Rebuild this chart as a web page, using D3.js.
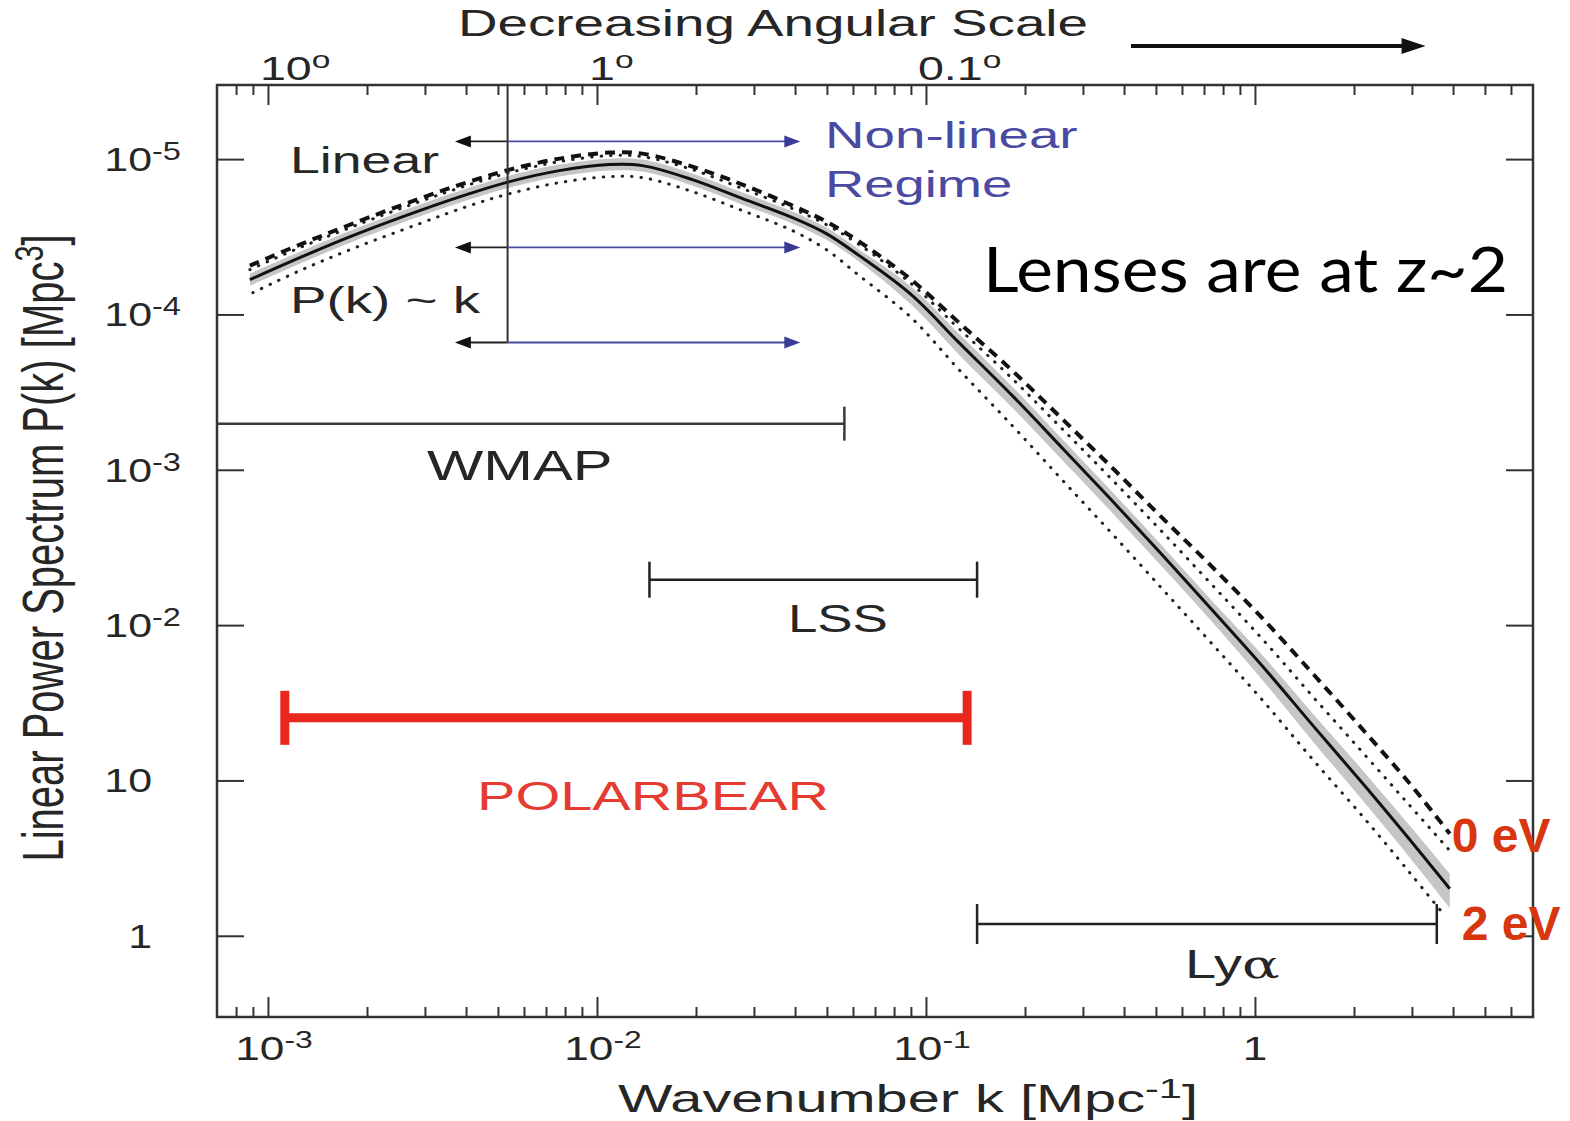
<!DOCTYPE html>
<html>
<head>
<meta charset="utf-8">
<script src="https://cdn.jsdelivr.net/npm/d3@7"></script>
<style>
  html, body { margin: 0; padding: 0; background: #fff; }
  svg { display: block; }
</style>
</head>
<body>
<svg id="chart" width="1570" height="1121"></svg>
<script>
// ---------------------------------------------------------------
// Linear matter power spectrum P(k) with the scale ranges probed
// by different experiments.
// ---------------------------------------------------------------

// central model (solid line) — k in Mpc^-1, P in Mpc^3
const kCentral = [0.000881, 0.00125, 0.00181, 0.00289, 0.00410, 0.00543, 0.00769, 0.01091,
  0.01374, 0.0195, 0.0277, 0.0393, 0.0498, 0.0627, 0.0902, 0.126, 0.183, 0.259, 0.368,
  0.522, 0.740, 1.064, 1.510, 2.143, 2.94, 3.91];
const pCentral = [16750, 23220, 32170, 46600, 59950, 71650, 84330, 92180,
  90820, 73790, 55670, 42010, 33140, 23910, 13410, 6583, 3000, 1388, 632.4,
  284.0, 125.6, 53.2, 22.2, 9.38, 4.21, 2.01];

// shaded uncertainty band around the central model
const pBandHigh = [18310, 25370, 35160, 50930, 65540, 78310, 92180, 100700,
  99260, 80650, 60850, 45920, 36220, 26140, 15100, 7521, 3429, 1586, 722.8,
  324.6, 143.6, 62.6, 26.5, 11.38, 5.19, 2.51];
const pBandLow = [15320, 21240, 29430, 42640, 54860, 65540, 77160, 84330,
  83090, 67520, 50930, 38430, 30310, 21880, 11570, 5511, 2512, 1161, 529.3,
  237.7, 105.2, 43.2, 17.5, 7.29, 3.23, 1.51];

// massless-neutrino model (dashed, "0 eV")
const pMassless = [20620, 28140, 38430, 55670, 71650, 85590, 100700, 110100,
  108500, 89480, 68520, 50190, 39590, 29430, 16750, 8855, 4346, 2133, 1032,
  491.6, 237.7, 108.3, 47.9, 20.9, 9.67, 4.54];

// upper dotted envelope
const pUpperDotted = [19440, 26920, 36760, 53250, 68520, 81880, 96360, 105300,
  103800, 85590, 64580, 48000, 37860, 28140, 15780, 8101, 3860, 1840, 863.3,
  399.4, 182.0, 79.4, 34.1, 14.85, 6.98, 3.53];

// lower dotted envelope ("2 eV")
const kLowerDotted = [0.000900, 0.00125, 0.00181, 0.00289, 0.00410, 0.00543, 0.00769, 0.01091,
  0.01374, 0.0195, 0.0277, 0.0393, 0.0498, 0.0627, 0.0902, 0.126, 0.183, 0.259, 0.368,
  0.522, 0.740, 1.064, 1.510, 2.143, 2.94, 3.67];
const pLowerDotted = [13820, 19140, 26530, 38430, 50190, 59950, 70580, 77160,
  76030, 61750, 46600, 34640, 26140, 17770, 9537, 4411, 1923, 863.3, 387.7,
  171.6, 75.9, 32.1, 13.39, 5.75, 2.58, 1.45];

// experiment ranges in k, drawn at a fixed P level
const rangeNames = ["WMAP", "LSS", "POLARBEAR", "Ly"];
const rangeKMin = [0.0007, 0.01444, 0.001125, 0.143];
const rangeKMax = [0.0565, 0.143, 0.1334, 3.57];
const rangeLevel = [1982, 196, 25.3, 1.19];

// linear / non-linear regime arrows
const regimeSplitK = 0.00535;
const regimeArrowK = [0.0037, 0.0415];
const regimeArrowP = [1.3e5, 2.7e4, 6.6e3];

// axis ticks and labels
const xMajorTicks = [1e-3, 1e-2, 1e-1, 1];
const xTickBase = ["10", "10", "10", "1"];
const xTickSup = ["-3", "-2", "-1", ""];
const yMajorTicks = [1e5, 1e4, 1e3, 1e2, 10, 1];
const yTickBase = ["10", "10", "10", "10", "10", "1"];
const yTickSup = ["-5", "-4", "-3", "-2", "", ""];
const angleTickK = [1e-3, 1e-2, 1e-1];
const angleLabels = ["10", "1", "0.1"];
const angleArrowK = [0.42, 3.3];

// ---------------------------------------------------------------
const svg = d3.select("#chart");
const frame = { left: 217, right: 1533, top: 85, bottom: 1017 };

const x = d3.scaleLog().domain([7e-4, 7]).range([frame.left, frame.right]);
const y = d3.scaleLog().domain([0.3, 3e5]).range([frame.bottom, frame.top]);

const SANS = "'Liberation Sans', Arial, Helvetica, sans-serif";
const INK = "#262626";
const BLUE = "#4a4aa2";
const RED = "#e8261c";

// text with horizontal stretching and optional superscript parts
function label(parent, tx, ty, parts, o) {
  const sx = o.sx || 1;
  const t = parent.append("text")
    .attr("transform", `translate(${tx},${ty}) scale(${sx},1)` + (o.rotate ? ` rotate(${o.rotate})` : ""))
    .attr("font-family", o.family || SANS)
    .attr("font-size", o.size)
    .attr("font-weight", o.weight || "normal")
    .attr("fill", o.fill || INK)
    .attr("text-anchor", o.anchor || "start");
  if (o.textLength) t.attr("textLength", o.textLength).attr("lengthAdjust", "spacingAndGlyphs");
  parts.forEach(p => {
    const s = t.append("tspan").text(p.t);
    if (p.sup) s.attr("font-size", o.size * 0.72).attr("dy", -o.size * 0.36);
    if (p.down) s.attr("dy", o.size * 0.36);
    if (p.family) s.attr("font-family", p.family);
  });
  return t;
}

// ---------------- spectrum curves ----------------
const plot = svg.append("g");
const smooth = d3.curveCatmullRom.alpha(0.5);

const band = d3.area()
  .x((d, i) => x(kCentral[i]))
  .y0((d, i) => y(pBandLow[i]))
  .y1((d, i) => y(pBandHigh[i]))
  .curve(smooth);
plot.append("path").datum(kCentral).attr("d", band)
  .attr("fill", "#c6c6c6").attr("stroke", "none");

const lineOf = (ks, ps) => d3.line()
  .x((d, i) => x(ks[i]))
  .y((d, i) => y(ps[i]))
  .curve(smooth)(ks);

plot.append("path").attr("d", lineOf(kLowerDotted, pLowerDotted))
  .attr("fill", "none").attr("stroke", "#222").attr("stroke-width", 3)
  .attr("stroke-linecap", "round").attr("stroke-dasharray", "0.5,9");

plot.append("path").attr("d", lineOf(kCentral, pUpperDotted))
  .attr("fill", "none").attr("stroke", "#222").attr("stroke-width", 3)
  .attr("stroke-linecap", "round").attr("stroke-dasharray", "0.5,9");

plot.append("path").attr("d", lineOf(kCentral, pMassless))
  .attr("fill", "none").attr("stroke", "#111").attr("stroke-width", 4)
  .attr("stroke-dasharray", "10,7");

plot.append("path").attr("d", lineOf(kCentral, pCentral))
  .attr("fill", "none").attr("stroke", "#111").attr("stroke-width", 3);

// ---------------- frame and ticks ----------------
svg.append("rect")
  .attr("x", frame.left).attr("y", frame.top)
  .attr("width", frame.right - frame.left).attr("height", frame.bottom - frame.top)
  .attr("fill", "none").attr("stroke", "#333").attr("stroke-width", 2.5);

const xMinorTicks = [];
d3.range(-4, 1).forEach(e => d3.range(2, 10).forEach(m => {
  const v = m * Math.pow(10, e);
  if (v > x.domain()[0] && v < x.domain()[1]) xMinorTicks.push(v);
}));

function styleTicks(g) {
  g.select(".domain").remove();
  g.selectAll("line").attr("stroke", "#333").attr("stroke-width", 2);
  g.selectAll("text").remove();
}

svg.append("g").attr("transform", `translate(0,${frame.bottom})`)
  .call(d3.axisBottom(x).tickValues(xMinorTicks).tickSize(-10)).call(styleTicks);
svg.append("g").attr("transform", `translate(0,${frame.bottom})`)
  .call(d3.axisBottom(x).tickValues(xMajorTicks).tickSize(-20)).call(styleTicks);
svg.append("g").attr("transform", `translate(0,${frame.top})`)
  .call(d3.axisTop(x).tickValues(xMinorTicks).tickSize(-10)).call(styleTicks);
svg.append("g").attr("transform", `translate(0,${frame.top})`)
  .call(d3.axisTop(x).tickValues(xMajorTicks).tickSize(-20)).call(styleTicks);
svg.append("g").attr("transform", `translate(${frame.left},0)`)
  .call(d3.axisLeft(y).tickValues(yMajorTicks).tickSize(-27)).call(styleTicks);
svg.append("g").attr("transform", `translate(${frame.right},0)`)
  .call(d3.axisRight(y).tickValues(yMajorTicks).tickSize(-27)).call(styleTicks);

// tick labels
xMajorTicks.forEach((v, i) => {
  const parts = [{ t: xTickBase[i] }];
  if (xTickSup[i]) parts.push({ t: xTickSup[i], sup: true });
  label(svg, x(v) + (xTickSup[i] ? 6 : 0), 1060, parts, { size: 34, sx: 1.3, anchor: "middle" });
});

yMajorTicks.forEach((v, i) => {
  label(svg, 152, y(v) + 12, [{ t: yTickBase[i] }], { size: 33, sx: 1.3, anchor: "end" });
  if (yTickSup[i]) label(svg, 152, y(v) + 1, [{ t: yTickSup[i] }], { size: 25, sx: 1.3 });
});

angleTickK.forEach((v, i) => {
  label(svg, x(v) - 8, 80, [{ t: angleLabels[i] }, { t: "o", sup: true }], { size: 34, sx: 1.37 });
});

// axis titles
label(svg, 458, 36, [{ t: "Decreasing Angular Scale" }], { size: 37, sx: 1.48 });
label(svg, 908, 1112, [{ t: "Wavenumber k [Mpc" }, { t: "-1", sup: true }, { t: "]", down: true }],
  { size: 39, sx: 1.48, anchor: "middle" });
label(svg, 63, 548, [{ t: "Linear Power Spectrum P(k) [Mpc" }, { t: "3", sup: true }, { t: "]", down: true }],
  { size: 40, sx: 1.42, anchor: "middle", rotate: -90 });

// decreasing angular scale arrow
const arrowY = 46;
svg.append("line")
  .attr("x1", x(angleArrowK[0])).attr("x2", x(angleArrowK[1]) - 18)
  .attr("y1", arrowY).attr("y2", arrowY)
  .attr("stroke", "#111").attr("stroke-width", 4);
svg.append("path")
  .attr("d", `M${x(angleArrowK[1])},${arrowY} l-24,-8 l0,16 Z`)
  .attr("fill", "#111");

// ---------------- regime arrows ----------------
const reg = svg.append("g");
reg.append("line")
  .attr("x1", x(regimeSplitK)).attr("x2", x(regimeSplitK))
  .attr("y1", frame.top).attr("y2", y(d3.min(regimeArrowP)))
  .attr("stroke", "#333").attr("stroke-width", 2);

regimeArrowP.forEach(p => {
  const yy = y(p);
  const xl = x(regimeArrowK[0]), xm = x(regimeSplitK), xr = x(regimeArrowK[1]);
  reg.append("line").attr("x1", xl + 10).attr("x2", xm).attr("y1", yy).attr("y2", yy)
    .attr("stroke", "#222").attr("stroke-width", 1.8);
  reg.append("path").attr("d", `M${xl},${yy} l16,-6 l0,12 Z`).attr("fill", "#111");
  reg.append("line").attr("x1", xm).attr("x2", xr - 10).attr("y1", yy).attr("y2", yy)
    .attr("stroke", BLUE).attr("stroke-width", 1.8);
  reg.append("path").attr("d", `M${xr},${yy} l-16,-6 l0,12 Z`).attr("fill", "#3a3a98");
});

label(svg, 290, 173, [{ t: "Linear" }], { size: 37, sx: 1.45 });
label(svg, 290, 313, [{ t: "P(k) ~ k" }], { size: 37, sx: 1.48 });
label(svg, 825, 148, [{ t: "Non-linear" }], { size: 37, sx: 1.48, fill: BLUE });
label(svg, 825, 197, [{ t: "Regime" }], { size: 37, sx: 1.47, fill: BLUE });

// ---------------- experiment ranges ----------------
const rangeStyle = [
  { stroke: "#3a3a3a", width: 2.5, cap: 17, capW: 2.5, leftCap: false, label: [427, 480], size: 42, sx: 1.42, fill: INK },
  { stroke: "#222", width: 2.5, cap: 18, capW: 2.5, leftCap: true, label: [788, 632], size: 38, sx: 1.39, fill: INK },
  { stroke: RED, width: 9, cap: 27, capW: 9, leftCap: true, label: [477, 810], size: 40, sx: 1.44, fill: "#e53b30" },
  { stroke: "#222", width: 2.5, cap: 20, capW: 2.5, leftCap: true, label: [1185, 978], size: 40, sx: 1.4, fill: INK }
];

const ranges = svg.append("g");
rangeNames.forEach((name, i) => {
  const s = rangeStyle[i];
  const x0 = x(rangeKMin[i]), x1 = x(rangeKMax[i]), yy = y(rangeLevel[i]);
  ranges.append("line").attr("x1", x0).attr("x2", x1).attr("y1", yy).attr("y2", yy)
    .attr("stroke", s.stroke).attr("stroke-width", s.width);
  const caps = s.leftCap ? [x0, x1] : [x1];
  caps.forEach(cx => ranges.append("line")
    .attr("x1", cx).attr("x2", cx).attr("y1", yy - s.cap).attr("y2", yy + s.cap)
    .attr("stroke", s.stroke).attr("stroke-width", s.capW));
  const parts = name === "Ly"
    ? [{ t: "Ly" }, { t: "\u03B1", family: "'DejaVu Serif', 'Liberation Serif', serif" }]
    : [{ t: name }];
  label(ranges, s.label[0], s.label[1], parts, { size: s.size, sx: s.sx, fill: s.fill });
});

// ---------------- annotations ----------------
label(svg, 983, 292, [{ t: "Lenses are at z~2" }],
  { size: 62, family: "Lato, 'Open Sans', sans-serif", fill: "#000", textLength: 525 });

const eVColor = "#d8360f";
const nEnd = kCentral.length - 1;
label(svg, x(kCentral[nEnd]) + 2, y(pMassless[nEnd]) + 18, [{ t: "0 eV" }],
  { size: 48, weight: "bold", fill: eVColor });
label(svg, x(kLowerDotted[nEnd]) + 21, y(pLowerDotted[nEnd]) + 29, [{ t: "2 eV" }],
  { size: 48, weight: "bold", fill: eVColor });
</script>
</body>
</html>
